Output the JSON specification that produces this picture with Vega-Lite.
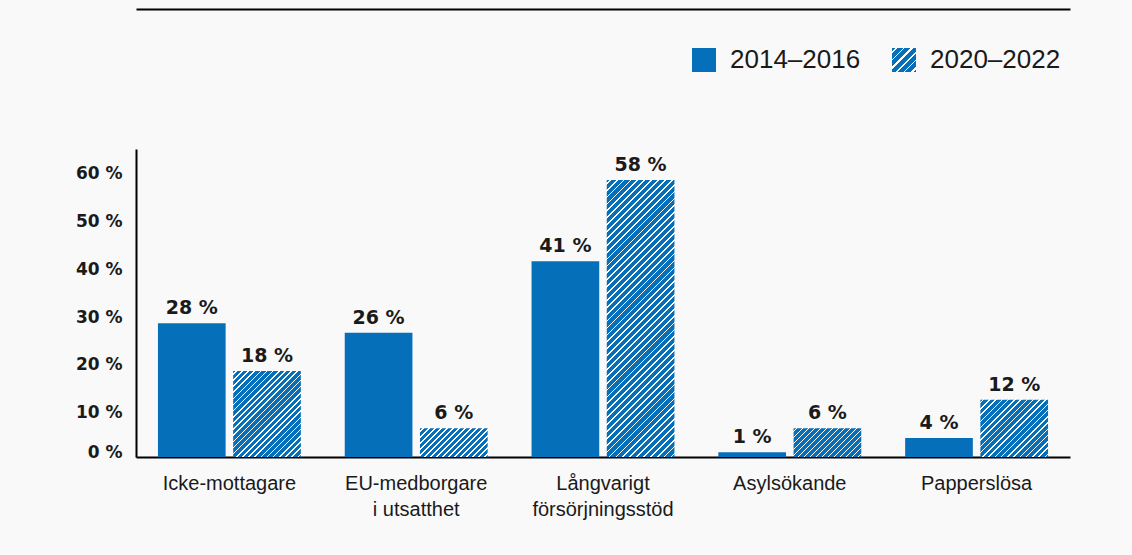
{
  "$schema": "https://vega.github.io/schema/vega-lite/v6.json",
  "width": 934,
  "height": 308,
  "autosize": {"type": "none"},
  "padding": {"left": 136, "top": 149, "right": 62, "bottom": 98},
  "background": "#f9f9f9",
  "config": {"view": {"stroke": null}, "font": "Liberation Sans"},
  "data": {
    "values": [
      {"category": "Icke-mottagare", "period": "2014–2016", "value": 28},
      {"category": "Icke-mottagare", "period": "2020–2022", "value": 18},
      {"category": "EU-medborgare i utsatthet", "period": "2014–2016", "value": 26},
      {"category": "EU-medborgare i utsatthet", "period": "2020–2022", "value": 6},
      {"category": "Långvarigt försörjningsstöd", "period": "2014–2016", "value": 41},
      {"category": "Långvarigt försörjningsstöd", "period": "2020–2022", "value": 58},
      {"category": "Asylsökande", "period": "2014–2016", "value": 1},
      {"category": "Asylsökande", "period": "2020–2022", "value": 6},
      {"category": "Papperslösa", "period": "2014–2016", "value": 4},
      {"category": "Papperslösa", "period": "2020–2022", "value": 12}
    ]
  },
  "encoding": {
    "x": {
      "field": "category", "type": "nominal", "sort": null,
      "scale": {"paddingInner": 0.235, "paddingOuter": 0.1175},
      "axis": {
        "title": null, "ticks": false, "domainColor": "#000000", "domainWidth": 2,
        "labelFont": "Liberation Sans", "labelFontSize": 20, "labelColor": "#1a1a1a",
        "labelPadding": 16, "labelLineHeight": 26, "labelAngle": 0, "labelBaseline": "top",
        "labelExpr": "datum.value === 'EU-medborgare i utsatthet' ? ['EU-medborgare', 'i utsatthet'] : datum.value === 'Långvarigt försörjningsstöd' ? ['Långvarigt', 'försörjningsstöd'] : datum.value"
      }
    },
    "xOffset": {"field": "period", "type": "nominal", "sort": null, "scale": {"paddingInner": 0.1, "paddingOuter": 0}},
    "y": {
      "field": "value", "type": "quantitative",
      "scale": {"domain": [0, 64.5], "nice": false, "zero": true},
      "axis": {
        "title": null, "grid": false, "ticks": false, "values": [0, 10, 20, 30, 40, 50, 60],
        "labelExpr": "datum.value + ' %'",
        "domainColor": "#000000", "domainWidth": 2,
        "labelFont": "DejaVu Sans", "labelFontWeight": "bold", "labelFontSize": 17, "labelColor": "#1a1a1a",
        "labelPadding": 14,
        "labelBaseline": {"condition": {"test": "datum.value === 0", "value": "alphabetic"}, "value": "middle"},
        "labelOffset": {"condition": {"test": "datum.value === 0", "value": 0}, "value": 3.5}
      }
    }
  },
  "layer": [
    {
      "mark": {"type": "bar"},
      "encoding": {
        "fill": {
          "condition": [
            {"test": "datum.period === '2020–2022' && datum.value === 18", "value": {"gradient": "linear", "x1": 0, "y1": 0, "x2": 0.8689, "y2": 1.1033, "stops": [
              {"offset":0.015,"color":"#0570b9"},{"offset":0.015,"color":"#fff"},{"offset":0.025,"color":"#fff"},{"offset":0.025,"color":"#0570b9"},
              {"offset":0.055,"color":"#0570b9"},{"offset":0.055,"color":"#fff"},{"offset":0.065,"color":"#fff"},{"offset":0.065,"color":"#0570b9"},
              {"offset":0.095,"color":"#0570b9"},{"offset":0.095,"color":"#fff"},{"offset":0.105,"color":"#fff"},{"offset":0.105,"color":"#0570b9"},
              {"offset":0.135,"color":"#0570b9"},{"offset":0.135,"color":"#fff"},{"offset":0.145,"color":"#fff"},{"offset":0.145,"color":"#0570b9"},
              {"offset":0.175,"color":"#0570b9"},{"offset":0.175,"color":"#fff"},{"offset":0.185,"color":"#fff"},{"offset":0.185,"color":"#0570b9"},
              {"offset":0.215,"color":"#0570b9"},{"offset":0.215,"color":"#fff"},{"offset":0.225,"color":"#fff"},{"offset":0.225,"color":"#0570b9"},
              {"offset":0.255,"color":"#0570b9"},{"offset":0.255,"color":"#fff"},{"offset":0.265,"color":"#fff"},{"offset":0.265,"color":"#0570b9"},
              {"offset":0.295,"color":"#0570b9"},{"offset":0.295,"color":"#fff"},{"offset":0.305,"color":"#fff"},{"offset":0.305,"color":"#0570b9"},
              {"offset":0.335,"color":"#0570b9"},{"offset":0.335,"color":"#fff"},{"offset":0.345,"color":"#fff"},{"offset":0.345,"color":"#0570b9"},
              {"offset":0.375,"color":"#0570b9"},{"offset":0.375,"color":"#fff"},{"offset":0.385,"color":"#fff"},{"offset":0.385,"color":"#0570b9"},
              {"offset":0.415,"color":"#0570b9"},{"offset":0.415,"color":"#fff"},{"offset":0.425,"color":"#fff"},{"offset":0.425,"color":"#0570b9"},
              {"offset":0.455,"color":"#0570b9"},{"offset":0.455,"color":"#fff"},{"offset":0.465,"color":"#fff"},{"offset":0.465,"color":"#0570b9"},
              {"offset":0.495,"color":"#0570b9"},{"offset":0.495,"color":"#fff"},{"offset":0.505,"color":"#fff"},{"offset":0.505,"color":"#0570b9"},
              {"offset":0.535,"color":"#0570b9"},{"offset":0.535,"color":"#fff"},{"offset":0.545,"color":"#fff"},{"offset":0.545,"color":"#0570b9"},
              {"offset":0.575,"color":"#0570b9"},{"offset":0.575,"color":"#fff"},{"offset":0.585,"color":"#fff"},{"offset":0.585,"color":"#0570b9"},
              {"offset":0.615,"color":"#0570b9"},{"offset":0.615,"color":"#fff"},{"offset":0.625,"color":"#fff"},{"offset":0.625,"color":"#0570b9"},
              {"offset":0.655,"color":"#0570b9"},{"offset":0.655,"color":"#fff"},{"offset":0.665,"color":"#fff"},{"offset":0.665,"color":"#0570b9"},
              {"offset":0.695,"color":"#0570b9"},{"offset":0.695,"color":"#fff"},{"offset":0.705,"color":"#fff"},{"offset":0.705,"color":"#0570b9"},
              {"offset":0.735,"color":"#0570b9"},{"offset":0.735,"color":"#fff"},{"offset":0.745,"color":"#fff"},{"offset":0.745,"color":"#0570b9"},
              {"offset":0.775,"color":"#0570b9"},{"offset":0.775,"color":"#fff"},{"offset":0.785,"color":"#fff"},{"offset":0.785,"color":"#0570b9"},
              {"offset":0.815,"color":"#0570b9"},{"offset":0.815,"color":"#fff"},{"offset":0.825,"color":"#fff"},{"offset":0.825,"color":"#0570b9"},
              {"offset":0.855,"color":"#0570b9"},{"offset":0.855,"color":"#fff"},{"offset":0.865,"color":"#fff"},{"offset":0.865,"color":"#0570b9"},
              {"offset":0.895,"color":"#0570b9"},{"offset":0.895,"color":"#fff"},{"offset":0.905,"color":"#fff"},{"offset":0.905,"color":"#0570b9"},
              {"offset":0.935,"color":"#0570b9"},{"offset":0.935,"color":"#fff"},{"offset":0.945,"color":"#fff"},{"offset":0.945,"color":"#0570b9"},
              {"offset":0.975,"color":"#0570b9"},{"offset":0.975,"color":"#fff"},{"offset":0.985,"color":"#fff"},{"offset":0.985,"color":"#0570b9"}
            ]}},
            {"test": "datum.period === '2020–2022' && datum.value === 6", "value": {"gradient": "linear", "x1": 0, "y1": 0, "x2": 1.207, "y2": 0.5109, "stops": [
              {"offset":0.0234,"color":"#0570b9"},{"offset":0.0234,"color":"#fff"},{"offset":0.0391,"color":"#fff"},{"offset":0.0391,"color":"#0570b9"},
              {"offset":0.0859,"color":"#0570b9"},{"offset":0.0859,"color":"#fff"},{"offset":0.1016,"color":"#fff"},{"offset":0.1016,"color":"#0570b9"},
              {"offset":0.1484,"color":"#0570b9"},{"offset":0.1484,"color":"#fff"},{"offset":0.1641,"color":"#fff"},{"offset":0.1641,"color":"#0570b9"},
              {"offset":0.2109,"color":"#0570b9"},{"offset":0.2109,"color":"#fff"},{"offset":0.2266,"color":"#fff"},{"offset":0.2266,"color":"#0570b9"},
              {"offset":0.2734,"color":"#0570b9"},{"offset":0.2734,"color":"#fff"},{"offset":0.2891,"color":"#fff"},{"offset":0.2891,"color":"#0570b9"},
              {"offset":0.3359,"color":"#0570b9"},{"offset":0.3359,"color":"#fff"},{"offset":0.3516,"color":"#fff"},{"offset":0.3516,"color":"#0570b9"},
              {"offset":0.3984,"color":"#0570b9"},{"offset":0.3984,"color":"#fff"},{"offset":0.4141,"color":"#fff"},{"offset":0.4141,"color":"#0570b9"},
              {"offset":0.4609,"color":"#0570b9"},{"offset":0.4609,"color":"#fff"},{"offset":0.4766,"color":"#fff"},{"offset":0.4766,"color":"#0570b9"},
              {"offset":0.5234,"color":"#0570b9"},{"offset":0.5234,"color":"#fff"},{"offset":0.5391,"color":"#fff"},{"offset":0.5391,"color":"#0570b9"},
              {"offset":0.5859,"color":"#0570b9"},{"offset":0.5859,"color":"#fff"},{"offset":0.6016,"color":"#fff"},{"offset":0.6016,"color":"#0570b9"},
              {"offset":0.6484,"color":"#0570b9"},{"offset":0.6484,"color":"#fff"},{"offset":0.6641,"color":"#fff"},{"offset":0.6641,"color":"#0570b9"},
              {"offset":0.7109,"color":"#0570b9"},{"offset":0.7109,"color":"#fff"},{"offset":0.7266,"color":"#fff"},{"offset":0.7266,"color":"#0570b9"},
              {"offset":0.7734,"color":"#0570b9"},{"offset":0.7734,"color":"#fff"},{"offset":0.7891,"color":"#fff"},{"offset":0.7891,"color":"#0570b9"},
              {"offset":0.8359,"color":"#0570b9"},{"offset":0.8359,"color":"#fff"},{"offset":0.8516,"color":"#fff"},{"offset":0.8516,"color":"#0570b9"},
              {"offset":0.8984,"color":"#0570b9"},{"offset":0.8984,"color":"#fff"},{"offset":0.9141,"color":"#fff"},{"offset":0.9141,"color":"#0570b9"},
              {"offset":0.9609,"color":"#0570b9"},{"offset":0.9609,"color":"#fff"},{"offset":0.9766,"color":"#fff"},{"offset":0.9766,"color":"#0570b9"}
            ]}},
            {"test": "datum.period === '2020–2022' && datum.value === 58", "value": {"gradient": "linear", "x1": 0, "y1": 0, "x2": 0.287, "y2": 1.1743, "stops": [
              {"offset":0.0075,"color":"#0570b9"},{"offset":0.0075,"color":"#fff"},{"offset":0.0125,"color":"#fff"},{"offset":0.0125,"color":"#0570b9"},
              {"offset":0.0275,"color":"#0570b9"},{"offset":0.0275,"color":"#fff"},{"offset":0.0325,"color":"#fff"},{"offset":0.0325,"color":"#0570b9"},
              {"offset":0.0475,"color":"#0570b9"},{"offset":0.0475,"color":"#fff"},{"offset":0.0525,"color":"#fff"},{"offset":0.0525,"color":"#0570b9"},
              {"offset":0.0675,"color":"#0570b9"},{"offset":0.0675,"color":"#fff"},{"offset":0.0725,"color":"#fff"},{"offset":0.0725,"color":"#0570b9"},
              {"offset":0.0875,"color":"#0570b9"},{"offset":0.0875,"color":"#fff"},{"offset":0.0925,"color":"#fff"},{"offset":0.0925,"color":"#0570b9"},
              {"offset":0.1075,"color":"#0570b9"},{"offset":0.1075,"color":"#fff"},{"offset":0.1125,"color":"#fff"},{"offset":0.1125,"color":"#0570b9"},
              {"offset":0.1275,"color":"#0570b9"},{"offset":0.1275,"color":"#fff"},{"offset":0.1325,"color":"#fff"},{"offset":0.1325,"color":"#0570b9"},
              {"offset":0.1475,"color":"#0570b9"},{"offset":0.1475,"color":"#fff"},{"offset":0.1525,"color":"#fff"},{"offset":0.1525,"color":"#0570b9"},
              {"offset":0.1675,"color":"#0570b9"},{"offset":0.1675,"color":"#fff"},{"offset":0.1725,"color":"#fff"},{"offset":0.1725,"color":"#0570b9"},
              {"offset":0.1875,"color":"#0570b9"},{"offset":0.1875,"color":"#fff"},{"offset":0.1925,"color":"#fff"},{"offset":0.1925,"color":"#0570b9"},
              {"offset":0.2075,"color":"#0570b9"},{"offset":0.2075,"color":"#fff"},{"offset":0.2125,"color":"#fff"},{"offset":0.2125,"color":"#0570b9"},
              {"offset":0.2275,"color":"#0570b9"},{"offset":0.2275,"color":"#fff"},{"offset":0.2325,"color":"#fff"},{"offset":0.2325,"color":"#0570b9"},
              {"offset":0.2475,"color":"#0570b9"},{"offset":0.2475,"color":"#fff"},{"offset":0.2525,"color":"#fff"},{"offset":0.2525,"color":"#0570b9"},
              {"offset":0.2675,"color":"#0570b9"},{"offset":0.2675,"color":"#fff"},{"offset":0.2725,"color":"#fff"},{"offset":0.2725,"color":"#0570b9"},
              {"offset":0.2875,"color":"#0570b9"},{"offset":0.2875,"color":"#fff"},{"offset":0.2925,"color":"#fff"},{"offset":0.2925,"color":"#0570b9"},
              {"offset":0.3075,"color":"#0570b9"},{"offset":0.3075,"color":"#fff"},{"offset":0.3125,"color":"#fff"},{"offset":0.3125,"color":"#0570b9"},
              {"offset":0.3275,"color":"#0570b9"},{"offset":0.3275,"color":"#fff"},{"offset":0.3325,"color":"#fff"},{"offset":0.3325,"color":"#0570b9"},
              {"offset":0.3475,"color":"#0570b9"},{"offset":0.3475,"color":"#fff"},{"offset":0.3525,"color":"#fff"},{"offset":0.3525,"color":"#0570b9"},
              {"offset":0.3675,"color":"#0570b9"},{"offset":0.3675,"color":"#fff"},{"offset":0.3725,"color":"#fff"},{"offset":0.3725,"color":"#0570b9"},
              {"offset":0.3875,"color":"#0570b9"},{"offset":0.3875,"color":"#fff"},{"offset":0.3925,"color":"#fff"},{"offset":0.3925,"color":"#0570b9"},
              {"offset":0.4075,"color":"#0570b9"},{"offset":0.4075,"color":"#fff"},{"offset":0.4125,"color":"#fff"},{"offset":0.4125,"color":"#0570b9"},
              {"offset":0.4275,"color":"#0570b9"},{"offset":0.4275,"color":"#fff"},{"offset":0.4325,"color":"#fff"},{"offset":0.4325,"color":"#0570b9"},
              {"offset":0.4475,"color":"#0570b9"},{"offset":0.4475,"color":"#fff"},{"offset":0.4525,"color":"#fff"},{"offset":0.4525,"color":"#0570b9"},
              {"offset":0.4675,"color":"#0570b9"},{"offset":0.4675,"color":"#fff"},{"offset":0.4725,"color":"#fff"},{"offset":0.4725,"color":"#0570b9"},
              {"offset":0.4875,"color":"#0570b9"},{"offset":0.4875,"color":"#fff"},{"offset":0.4925,"color":"#fff"},{"offset":0.4925,"color":"#0570b9"},
              {"offset":0.5075,"color":"#0570b9"},{"offset":0.5075,"color":"#fff"},{"offset":0.5125,"color":"#fff"},{"offset":0.5125,"color":"#0570b9"},
              {"offset":0.5275,"color":"#0570b9"},{"offset":0.5275,"color":"#fff"},{"offset":0.5325,"color":"#fff"},{"offset":0.5325,"color":"#0570b9"},
              {"offset":0.5475,"color":"#0570b9"},{"offset":0.5475,"color":"#fff"},{"offset":0.5525,"color":"#fff"},{"offset":0.5525,"color":"#0570b9"},
              {"offset":0.5675,"color":"#0570b9"},{"offset":0.5675,"color":"#fff"},{"offset":0.5725,"color":"#fff"},{"offset":0.5725,"color":"#0570b9"},
              {"offset":0.5875,"color":"#0570b9"},{"offset":0.5875,"color":"#fff"},{"offset":0.5925,"color":"#fff"},{"offset":0.5925,"color":"#0570b9"},
              {"offset":0.6075,"color":"#0570b9"},{"offset":0.6075,"color":"#fff"},{"offset":0.6125,"color":"#fff"},{"offset":0.6125,"color":"#0570b9"},
              {"offset":0.6275,"color":"#0570b9"},{"offset":0.6275,"color":"#fff"},{"offset":0.6325,"color":"#fff"},{"offset":0.6325,"color":"#0570b9"},
              {"offset":0.6475,"color":"#0570b9"},{"offset":0.6475,"color":"#fff"},{"offset":0.6525,"color":"#fff"},{"offset":0.6525,"color":"#0570b9"},
              {"offset":0.6675,"color":"#0570b9"},{"offset":0.6675,"color":"#fff"},{"offset":0.6725,"color":"#fff"},{"offset":0.6725,"color":"#0570b9"},
              {"offset":0.6875,"color":"#0570b9"},{"offset":0.6875,"color":"#fff"},{"offset":0.6925,"color":"#fff"},{"offset":0.6925,"color":"#0570b9"},
              {"offset":0.7075,"color":"#0570b9"},{"offset":0.7075,"color":"#fff"},{"offset":0.7125,"color":"#fff"},{"offset":0.7125,"color":"#0570b9"},
              {"offset":0.7275,"color":"#0570b9"},{"offset":0.7275,"color":"#fff"},{"offset":0.7325,"color":"#fff"},{"offset":0.7325,"color":"#0570b9"},
              {"offset":0.7475,"color":"#0570b9"},{"offset":0.7475,"color":"#fff"},{"offset":0.7525,"color":"#fff"},{"offset":0.7525,"color":"#0570b9"},
              {"offset":0.7675,"color":"#0570b9"},{"offset":0.7675,"color":"#fff"},{"offset":0.7725,"color":"#fff"},{"offset":0.7725,"color":"#0570b9"},
              {"offset":0.7875,"color":"#0570b9"},{"offset":0.7875,"color":"#fff"},{"offset":0.7925,"color":"#fff"},{"offset":0.7925,"color":"#0570b9"},
              {"offset":0.8075,"color":"#0570b9"},{"offset":0.8075,"color":"#fff"},{"offset":0.8125,"color":"#fff"},{"offset":0.8125,"color":"#0570b9"},
              {"offset":0.8275,"color":"#0570b9"},{"offset":0.8275,"color":"#fff"},{"offset":0.8325,"color":"#fff"},{"offset":0.8325,"color":"#0570b9"},
              {"offset":0.8475,"color":"#0570b9"},{"offset":0.8475,"color":"#fff"},{"offset":0.8525,"color":"#fff"},{"offset":0.8525,"color":"#0570b9"},
              {"offset":0.8675,"color":"#0570b9"},{"offset":0.8675,"color":"#fff"},{"offset":0.8725,"color":"#fff"},{"offset":0.8725,"color":"#0570b9"},
              {"offset":0.8875,"color":"#0570b9"},{"offset":0.8875,"color":"#fff"},{"offset":0.8925,"color":"#fff"},{"offset":0.8925,"color":"#0570b9"},
              {"offset":0.9075,"color":"#0570b9"},{"offset":0.9075,"color":"#fff"},{"offset":0.9125,"color":"#fff"},{"offset":0.9125,"color":"#0570b9"},
              {"offset":0.9275,"color":"#0570b9"},{"offset":0.9275,"color":"#fff"},{"offset":0.9325,"color":"#fff"},{"offset":0.9325,"color":"#0570b9"},
              {"offset":0.9475,"color":"#0570b9"},{"offset":0.9475,"color":"#fff"},{"offset":0.9525,"color":"#fff"},{"offset":0.9525,"color":"#0570b9"},
              {"offset":0.9675,"color":"#0570b9"},{"offset":0.9675,"color":"#fff"},{"offset":0.9725,"color":"#fff"},{"offset":0.9725,"color":"#0570b9"},
              {"offset":0.9875,"color":"#0570b9"},{"offset":0.9875,"color":"#fff"},{"offset":0.9925,"color":"#fff"},{"offset":0.9925,"color":"#0570b9"}
            ]}},
            {"test": "datum.period === '2020–2022' && datum.value === 12", "value": {"gradient": "linear", "x1": 0, "y1": 0, "x2": 1.0757, "y2": 0.9106, "stops": [
              {"offset":0.0188,"color":"#0570b9"},{"offset":0.0188,"color":"#fff"},{"offset":0.0313,"color":"#fff"},{"offset":0.0313,"color":"#0570b9"},
              {"offset":0.0688,"color":"#0570b9"},{"offset":0.0688,"color":"#fff"},{"offset":0.0813,"color":"#fff"},{"offset":0.0813,"color":"#0570b9"},
              {"offset":0.1188,"color":"#0570b9"},{"offset":0.1188,"color":"#fff"},{"offset":0.1313,"color":"#fff"},{"offset":0.1313,"color":"#0570b9"},
              {"offset":0.1688,"color":"#0570b9"},{"offset":0.1688,"color":"#fff"},{"offset":0.1813,"color":"#fff"},{"offset":0.1813,"color":"#0570b9"},
              {"offset":0.2188,"color":"#0570b9"},{"offset":0.2188,"color":"#fff"},{"offset":0.2313,"color":"#fff"},{"offset":0.2313,"color":"#0570b9"},
              {"offset":0.2688,"color":"#0570b9"},{"offset":0.2688,"color":"#fff"},{"offset":0.2813,"color":"#fff"},{"offset":0.2813,"color":"#0570b9"},
              {"offset":0.3188,"color":"#0570b9"},{"offset":0.3188,"color":"#fff"},{"offset":0.3313,"color":"#fff"},{"offset":0.3313,"color":"#0570b9"},
              {"offset":0.3688,"color":"#0570b9"},{"offset":0.3688,"color":"#fff"},{"offset":0.3813,"color":"#fff"},{"offset":0.3813,"color":"#0570b9"},
              {"offset":0.4188,"color":"#0570b9"},{"offset":0.4188,"color":"#fff"},{"offset":0.4313,"color":"#fff"},{"offset":0.4313,"color":"#0570b9"},
              {"offset":0.4688,"color":"#0570b9"},{"offset":0.4688,"color":"#fff"},{"offset":0.4813,"color":"#fff"},{"offset":0.4813,"color":"#0570b9"},
              {"offset":0.5188,"color":"#0570b9"},{"offset":0.5188,"color":"#fff"},{"offset":0.5313,"color":"#fff"},{"offset":0.5313,"color":"#0570b9"},
              {"offset":0.5688,"color":"#0570b9"},{"offset":0.5688,"color":"#fff"},{"offset":0.5813,"color":"#fff"},{"offset":0.5813,"color":"#0570b9"},
              {"offset":0.6188,"color":"#0570b9"},{"offset":0.6188,"color":"#fff"},{"offset":0.6313,"color":"#fff"},{"offset":0.6313,"color":"#0570b9"},
              {"offset":0.6688,"color":"#0570b9"},{"offset":0.6688,"color":"#fff"},{"offset":0.6813,"color":"#fff"},{"offset":0.6813,"color":"#0570b9"},
              {"offset":0.7188,"color":"#0570b9"},{"offset":0.7188,"color":"#fff"},{"offset":0.7313,"color":"#fff"},{"offset":0.7313,"color":"#0570b9"},
              {"offset":0.7688,"color":"#0570b9"},{"offset":0.7688,"color":"#fff"},{"offset":0.7813,"color":"#fff"},{"offset":0.7813,"color":"#0570b9"},
              {"offset":0.8188,"color":"#0570b9"},{"offset":0.8188,"color":"#fff"},{"offset":0.8313,"color":"#fff"},{"offset":0.8313,"color":"#0570b9"},
              {"offset":0.8688,"color":"#0570b9"},{"offset":0.8688,"color":"#fff"},{"offset":0.8813,"color":"#fff"},{"offset":0.8813,"color":"#0570b9"},
              {"offset":0.9188,"color":"#0570b9"},{"offset":0.9188,"color":"#fff"},{"offset":0.9313,"color":"#fff"},{"offset":0.9313,"color":"#0570b9"},
              {"offset":0.9688,"color":"#0570b9"},{"offset":0.9688,"color":"#fff"},{"offset":0.9813,"color":"#fff"},{"offset":0.9813,"color":"#0570b9"}
            ]}}
          ],
          "field": "period", "type": "nominal", "sort": null,
          "scale": {
            "domain": ["2014–2016", "2020–2022"],
            "range": ["#0570b9", {"expr": "{gradient: 'linear', x1: 0, y1: 0, x2: 1, y2: 1, stops: [{offset: 0.0625, color: '#0570b9'}, {offset: 0.0625, color: '#fff'}, {offset: 0.1042, color: '#fff'}, {offset: 0.1042, color: '#0570b9'}, {offset: 0.2292, color: '#0570b9'}, {offset: 0.2292, color: '#fff'}, {offset: 0.2708, color: '#fff'}, {offset: 0.2708, color: '#0570b9'}, {offset: 0.3958, color: '#0570b9'}, {offset: 0.3958, color: '#fff'}, {offset: 0.4375, color: '#fff'}, {offset: 0.4375, color: '#0570b9'}, {offset: 0.5625, color: '#0570b9'}, {offset: 0.5625, color: '#fff'}, {offset: 0.6042, color: '#fff'}, {offset: 0.6042, color: '#0570b9'}, {offset: 0.7292, color: '#0570b9'}, {offset: 0.7292, color: '#fff'}, {offset: 0.7708, color: '#fff'}, {offset: 0.7708, color: '#0570b9'}, {offset: 0.8958, color: '#0570b9'}, {offset: 0.8958, color: '#fff'}, {offset: 0.9375, color: '#fff'}, {offset: 0.9375, color: '#0570b9'}]}"}]
          },
          "legend": {
            "title": null, "orient": "none", "legendX": 555, "legendY": -102, "direction": "horizontal",
            "symbolType": "square", "symbolSize": 576, "padding": 0,
            "labelFont": "Liberation Sans", "labelFontSize": 26, "labelColor": "#1a1a1a",
            "labelOffset": 13, "columnPadding": 30
          }
        }
      }
    },
    {
      "mark": {
        "type": "text", "font": "DejaVu Sans", "fontWeight": "bold", "fontSize": 19,
        "baseline": "alphabetic", "align": "center", "dy": -9, "fill": "#1a1a1a",
        "text": {"expr": "datum.value + ' %'"}
      },
      "encoding": {
        "x": {
          "field": "category", "type": "nominal", "sort": null,
          "scale": {"paddingInner": 0.235, "paddingOuter": 0.1175},
          "axis": {"orient": "top", "offset": 140, "title": null, "labels": false, "ticks": false, "domain": true, "domainColor": "#000000", "domainWidth": 2}
        }
      }
    }
  ],
  "resolve": {"axis": {"x": "independent"}}
}
